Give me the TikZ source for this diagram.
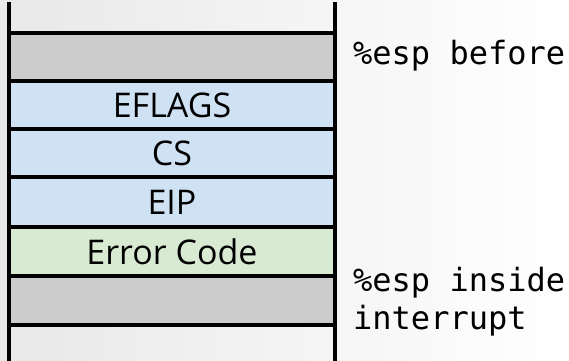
\documentclass[tikz,border=0pt]{standalone}
\usepackage{fontspec}
\setmainfont{Open Sans}
\setmonofont{DejaVu Sans Mono}
\definecolor{slotgray}{HTML}{CCCCCC}
\definecolor{slotblue}{HTML}{CFE2F3}
\definecolor{slotgreen}{HTML}{D9EAD3}
\begin{document}
\begin{tikzpicture}[x=1pt,y=-1pt,
  slot/.style={draw=black, line width=3.5pt, inner sep=0pt, outer sep=0pt,
    minimum width=326pt, anchor=north west,
    font=\fontsize{34}{40}\selectfont},
  note/.style={anchor=west, inner sep=0pt, align=left,
    font=\ttfamily\fontsize{32}{38}\selectfont}]
  % soft background
  \fill[left color=black!9, right color=white] (0,0) rectangle (569,360);
  \useasboundingbox (0,0) rectangle (569,360);
  % stack slots, top to bottom
  \node[slot, fill=slotgray,  minimum height=48pt] (pad1)  at (9,33)  {};
  \node[slot, fill=slotblue,  minimum height=48pt] (flags) at (9,81)  {EFLAGS};
  \node[slot, fill=slotblue,  minimum height=48pt] (cs)    at (9,129) {CS};
  \node[slot, fill=slotblue,  minimum height=50pt] (eip)   at (9,177) {EIP};
  \node[slot, fill=slotgreen, minimum height=49pt] (err)   at (9,227) {Error Code};
  \node[slot, fill=slotgray,  minimum height=49pt] (pad2)  at (9,276) {};
  % stack walls
  \coordinate (lt) at (9,2);   \coordinate (lb) at (9,362);
  \coordinate (rt) at (335,2); \coordinate (rb) at (335,362);
  \draw[line width=3.5pt] (lt) -- (lb);
  \draw[line width=3.5pt] (rt) -- (rb);
  % stack pointer labels
  \node[note] (before) at (353,56)  {\%esp before};
  \node[note] (inside) at (353,302) {\%esp inside\\interrupt};
\end{tikzpicture}
\end{document}
